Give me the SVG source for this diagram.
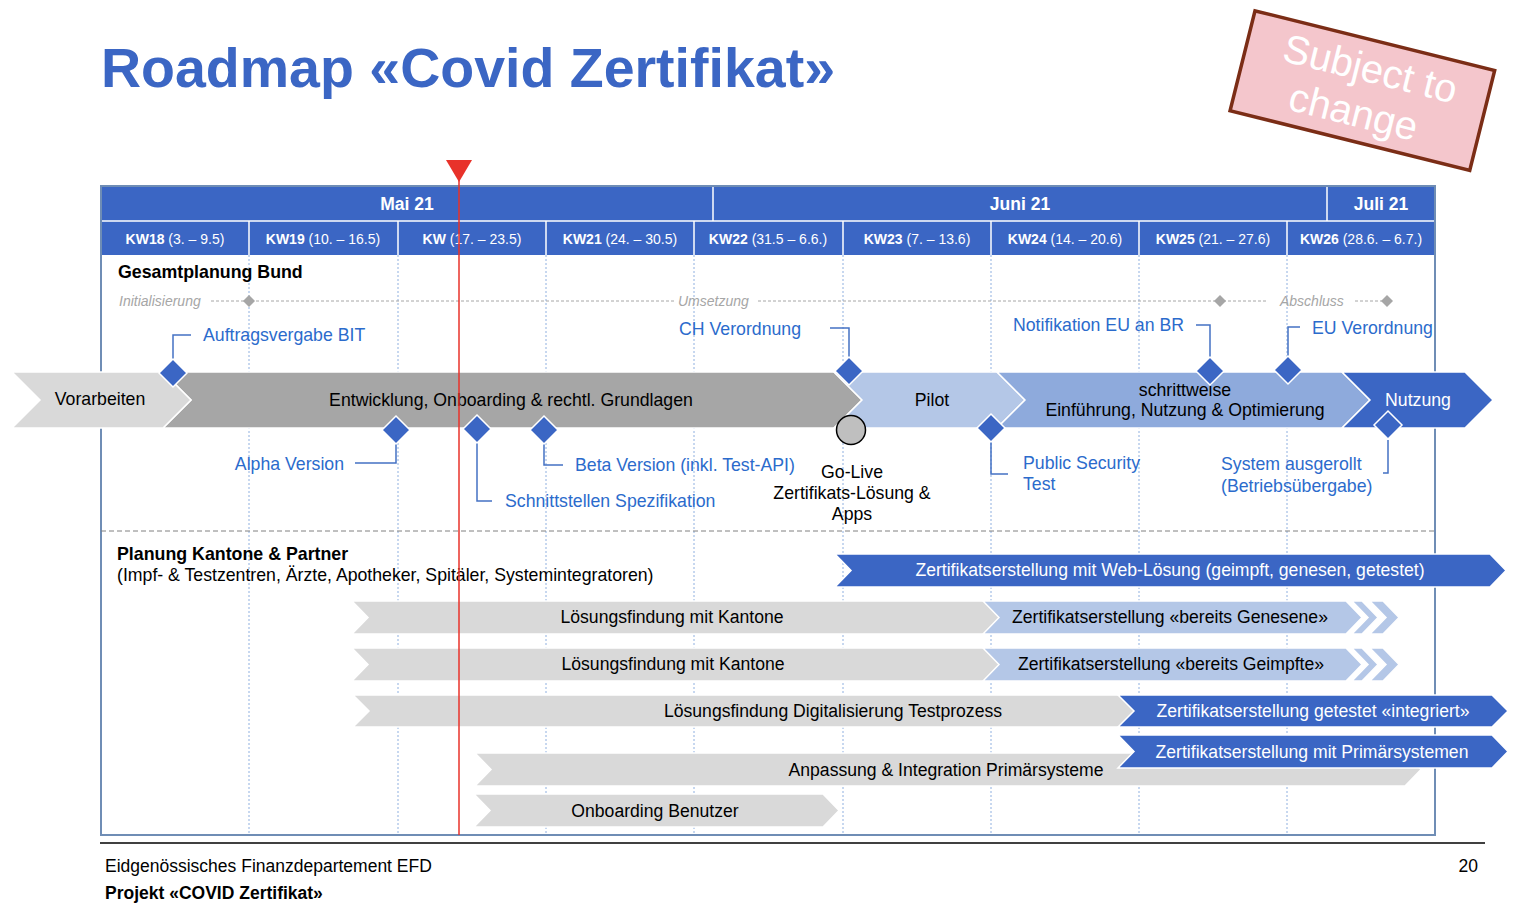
<svg xmlns="http://www.w3.org/2000/svg" width="1536" height="915" viewBox="0 0 1536 915">
<defs>
<style>
text{font-family:"Liberation Sans",Arial,sans-serif}
.title{font-size:55.5px;font-weight:bold;fill:#3b66c4}
.hm{font-size:17.5px;font-weight:bold;fill:#fff}
.wk{font-size:14px;fill:#fff}
.wk tspan.b{font-weight:bold}
.sec{font-size:17.8px;font-weight:bold;fill:#000}
.sub{font-size:17.7px;fill:#000}
.ph{font-size:14px;font-style:italic;fill:#a6a6a6}
.lbl{font-size:17.7px;fill:#2b6bcc}
.blk{font-size:17.7px;fill:#000}
.wht{font-size:17.7px;fill:#fff}
.bar{font-size:17.6px;fill:#000}
.barw{font-size:17.6px;fill:#fff}
.foot{font-size:17.5px;fill:#000}
.g1{fill:#d9d9d9;stroke:#fff;stroke-width:1.5}
.g2{fill:#a6a6a6;stroke:#fff;stroke-width:1.5}
.lb{fill:#b4c7e7;stroke:#fff;stroke-width:1.5}
.mb{fill:#8eaadc;stroke:#fff;stroke-width:1.5}
.db{fill:#3b66c4;stroke:#fff;stroke-width:1.5}
.ms{fill:#3b66c4;stroke:#fff;stroke-width:1.5}
.con{fill:none;stroke:#4472c4;stroke-width:1.5}
.col{stroke:#8fb0e0;stroke-width:1;stroke-dasharray:2 2}
.phl{stroke:#a6a6a6;stroke-width:1;stroke-dasharray:3 2}
.pd{fill:#a6a6a6}
</style>
</defs>

<text class="title" x="101" y="87">Roadmap «Covid Zertifikat»</text>

<g id="stamp" transform="translate(1362,90) rotate(14)">
<rect x="-123" y="-51" width="247" height="103" fill="#f4c6cc" stroke="#7b2d16" stroke-width="3.5"/>
<text x="3" y="-9" font-size="40" fill="#fff" text-anchor="middle">Subject to</text>
<text x="-3" y="37" font-size="40" fill="#fff" text-anchor="middle">change</text>
</g>

<g id="timeline-header">
<rect x="101" y="186" width="1334" height="69" fill="#3b66c4"/>
<line x1="101" y1="221" x2="1435" y2="221" stroke="#fff" stroke-width="1.5"/>
<line x1="713" y1="186" x2="713" y2="221" stroke="#fff" stroke-width="1.5"/>
<line x1="1327" y1="186" x2="1327" y2="221" stroke="#fff" stroke-width="1.5"/>
<g stroke="#fff" stroke-width="1.5">
<line x1="249" y1="221" x2="249" y2="255"/><line x1="398" y1="221" x2="398" y2="255"/>
<line x1="546" y1="221" x2="546" y2="255"/><line x1="694" y1="221" x2="694" y2="255"/>
<line x1="843" y1="221" x2="843" y2="255"/><line x1="991" y1="221" x2="991" y2="255"/>
<line x1="1139" y1="221" x2="1139" y2="255"/><line x1="1287" y1="221" x2="1287" y2="255"/>
</g>
<text class="hm" x="407" y="210" text-anchor="middle">Mai 21</text>
<text class="hm" x="1020" y="210" text-anchor="middle">Juni 21</text>
<text class="hm" x="1381" y="210" text-anchor="middle">Juli 21</text>
<text class="wk" x="175" y="244" text-anchor="middle"><tspan class="b">KW18</tspan> (3. – 9.5)</text>
<text class="wk" x="323" y="244" text-anchor="middle"><tspan class="b">KW19</tspan> (10. – 16.5)</text>
<text class="wk" x="472" y="244" text-anchor="middle"><tspan class="b">KW</tspan> (17. – 23.5)</text>
<text class="wk" x="620" y="244" text-anchor="middle"><tspan class="b">KW21</tspan> (24. – 30.5)</text>
<text class="wk" x="768" y="244" text-anchor="middle"><tspan class="b">KW22</tspan> (31.5 – 6.6.)</text>
<text class="wk" x="917" y="244" text-anchor="middle"><tspan class="b">KW23</tspan> (7. – 13.6)</text>
<text class="wk" x="1065" y="244" text-anchor="middle"><tspan class="b">KW24</tspan> (14. – 20.6)</text>
<text class="wk" x="1213" y="244" text-anchor="middle"><tspan class="b">KW25</tspan> (21. – 27.6)</text>
<text class="wk" x="1361" y="244" text-anchor="middle"><tspan class="b">KW26</tspan> (28.6. – 6.7.)</text>
</g>

<g id="grid">
<line class="col" x1="249" y1="255" x2="249" y2="835"/>
<line class="col" x1="398" y1="255" x2="398" y2="835"/>
<line class="col" x1="546" y1="255" x2="546" y2="835"/>
<line class="col" x1="694" y1="255" x2="694" y2="835"/>
<line class="col" x1="843" y1="255" x2="843" y2="835"/>
<line class="col" x1="991" y1="255" x2="991" y2="835"/>
<line class="col" x1="1139" y1="255" x2="1139" y2="835"/>
<line class="col" x1="1287" y1="255" x2="1287" y2="835"/>
<rect x="101" y="186" width="1334" height="649" fill="none" stroke="#6f8db5" stroke-width="2"/>
<line x1="101" y1="531" x2="1435" y2="531" stroke="#808080" stroke-width="1" stroke-dasharray="5 3"/>
</g>

<text class="sec" x="118" y="278">Gesamtplanung Bund</text>

<g id="phases">
<text class="ph" x="119" y="306">Initialisierung</text>
<line class="phl" x1="211" y1="301" x2="675" y2="301"/>
<polygon class="pd" points="249,295 255,301 249,307 243,301"/>
<text class="ph" x="678" y="306">Umsetzung</text>
<line class="phl" x1="758" y1="301" x2="1266" y2="301"/>
<polygon class="pd" points="1220,295 1226,301 1220,307 1214,301"/>
<text class="ph" x="1280" y="306">Abschluss</text>
<line class="phl" x1="1355" y1="301" x2="1384" y2="301"/>
<polygon class="pd" points="1387,295 1393,301 1387,307 1381,301"/>
</g>

<g id="main-arrows">
<g id="entwicklung">
<polygon class="g2" points="163,372 834,372 862,400 834,428 163,428 191,400"/>
<text class="blk" x="511" y="406" text-anchor="middle">Entwicklung, Onboarding &amp; rechtl. Grundlagen</text>
</g>
<g id="vorarbeiten">
<polygon class="g1" points="12,372 163,372 191,400 163,428 12,428 40,400"/>
<text class="blk" x="100" y="405" text-anchor="middle" font-size="18.2">Vorarbeiten</text>
</g>
<g id="pilot">
<polygon class="lb" points="834,372 997,372 1025,400 997,428 834,428 862,400"/>
<text class="blk" x="932" y="406" text-anchor="middle">Pilot</text>
</g>
<g id="schrittweise">
<polygon class="mb" points="997,372 1342,372 1370,400 1342,428 997,428 1025,400"/>
<text class="blk" x="1185" y="396" text-anchor="middle">schrittweise</text>
<text class="blk" x="1185" y="416" text-anchor="middle">Einführung, Nutzung &amp; Optimierung</text>
</g>
<g id="nutzung">
<polygon class="db" points="1342,372 1465,372 1493,400 1465,428 1342,428 1370,400"/>
<text class="wht" x="1418" y="406" text-anchor="middle">Nutzung</text>
</g>
</g>

<g id="connectors">
<path class="con" d="M173,359 V335 H191"/>
<path class="con" d="M396,444 V463 H355"/>
<path class="con" d="M477,443 V501 H492"/>
<path class="con" d="M544,444 V465 H563"/>
<path class="con" d="M849,357 V328 H830"/>
<path class="con" d="M991,442 V474 H1008"/>
<path class="con" d="M1210,357 V325 H1196"/>
<path class="con" d="M1288,356 V327 H1300"/>
<path class="con" d="M1388,440 V473 H1383"/>
</g>

<g id="ms-auftrag"><polygon class="ms" points="173,359 187,373 173,387 159,373"/><text class="lbl" x="203" y="341">Auftragsvergabe BIT</text></g>
<g id="ms-alpha"><polygon class="ms" points="396,416 410,430 396,444 382,430"/><text class="lbl" x="344" y="470" text-anchor="end">Alpha Version</text></g>
<g id="ms-schnittstellen"><polygon class="ms" points="477,415 491,429 477,443 463,429"/><text class="lbl" x="505" y="507">Schnittstellen Spezifikation</text></g>
<g id="ms-beta"><polygon class="ms" points="544,416 558,430 544,444 530,430"/><text class="lbl" x="575" y="471">Beta Version (inkl. Test-API)</text></g>
<g id="ms-ch"><polygon class="ms" points="849,357 863,371 849,385 835,371"/><text class="lbl" x="801" y="335" text-anchor="end">CH Verordnung</text></g>
<g id="ms-golive"><circle cx="851" cy="430" r="14.5" fill="#bfbfbf" stroke="#000" stroke-width="1.5"/>
<text class="blk" x="852" y="478" text-anchor="middle">Go-Live</text>
<text class="blk" x="852" y="499" text-anchor="middle">Zertifikats-Lösung &amp;</text>
<text class="blk" x="852" y="520" text-anchor="middle">Apps</text></g>
<g id="ms-security"><polygon class="ms" points="991,414 1005,428 991,442 977,428"/><text class="lbl" x="1023" y="469">Public Security</text><text class="lbl" x="1023" y="490">Test</text></g>
<g id="ms-notifikation"><polygon class="ms" points="1210,357 1224,371 1210,385 1196,371"/><text class="lbl" x="1184" y="331" text-anchor="end">Notifikation EU an BR</text></g>
<g id="ms-eu"><polygon class="ms" points="1288,356 1302,370 1288,384 1274,370"/><text class="lbl" x="1312" y="334">EU Verordnung</text></g>
<g id="ms-system"><polygon class="ms" points="1388,411 1402,425 1388,439 1374,425"/><text class="lbl" x="1221" y="470">System ausgerollt</text><text class="lbl" x="1221" y="492">(Betriebsübergabe)</text></g>

<text class="sec" x="117" y="560">Planung Kantone &amp; Partner</text>
<text class="sub" x="117" y="581">(Impf- &amp; Testzentren, Ärzte, Apotheker, Spitäler, Systemintegratoren)</text>

<g id="bar-web">
<polygon class="db" points="835,554 1490,554 1506,570.5 1490,587 835,587 851,570.5"/>
<text class="barw" x="1170" y="576" text-anchor="middle">Zertifikatserstellung mit Web-Lösung (geimpft, genesen, getestet)</text>
</g>
<g id="bar-kantone-1">
<polygon class="g1" points="352,601 984,601 1000,617.5 984,634 352,634 368,617.5"/>
<text class="bar" x="672" y="623" text-anchor="middle">Lösungsfindung mit Kantone</text>
</g>
<g id="bar-genesene">
<polygon class="lb" points="983,601 1346,601 1362,617.5 1346,634 983,634 999,617.5"/>
<polygon class="lb" points="1352,601 1362,601 1378,617.5 1362,634 1352,634 1368,617.5"/>
<polygon class="lb" points="1370,601 1383,601 1399,617.5 1383,634 1370,634 1386,617.5"/>
<text class="bar" x="1170" y="623" text-anchor="middle">Zertifikatserstellung «bereits Genesene»</text>
</g>
<g id="bar-kantone-2">
<polygon class="g1" points="352,648 984,648 1000,664.5 984,681 352,681 368,664.5"/>
<text class="bar" x="673" y="670" text-anchor="middle">Lösungsfindung mit Kantone</text>
</g>
<g id="bar-geimpfte">
<polygon class="lb" points="983,648 1346,648 1362,664.5 1346,681 983,681 999,664.5"/>
<polygon class="lb" points="1352,648 1362,648 1378,664.5 1362,681 1352,681 1368,664.5"/>
<polygon class="lb" points="1370,648 1383,648 1399,664.5 1383,681 1370,681 1386,664.5"/>
<text class="bar" x="1171" y="670" text-anchor="middle">Zertifikatserstellung «bereits Geimpfte»</text>
</g>
<g id="bar-testprozess">
<polygon class="g1" points="353,695 1120,695 1136,711 1120,727 353,727 369,711"/>
<text class="bar" x="833" y="717" text-anchor="middle">Lösungsfindung Digitalisierung Testprozess</text>
</g>
<g id="bar-integriert">
<polygon class="db" points="1118,695 1492,695 1508,711 1492,727 1118,727 1134,711"/>
<text class="barw" x="1313" y="717" text-anchor="middle">Zertifikatserstellung getestet «integriert»</text>
</g>
<g id="bar-primaer">
<polygon class="g1" points="475,753 1405,753 1421,769.5 1405,786 475,786 491,769.5"/>
<text class="bar" x="946" y="776" text-anchor="middle">Anpassung &amp; Integration Primärsysteme</text>
</g>
<g id="bar-primaersystemen">
<polygon class="db" points="1118,735 1492,735 1508,751.5 1492,768 1118,768 1134,751.5"/>
<text class="barw" x="1312" y="758" text-anchor="middle">Zertifikatserstellung mit Primärsystemen</text>
</g>
<g id="bar-onboarding">
<polygon class="g1" points="474,794 823,794 839,810.5 823,827 474,827 490,810.5"/>
<text class="bar" x="655" y="817" text-anchor="middle">Onboarding Benutzer</text>
</g>

<g id="today">
<line x1="459" y1="178" x2="459" y2="835" stroke="#e8322a" stroke-width="1.5"/>
<polygon points="446,160 472,160 459,182" fill="#e8322a"/>
</g>

<g id="footer">
<line x1="100" y1="843" x2="1485" y2="843" stroke="#000" stroke-width="1.5"/>
<text class="foot" x="105" y="872">Eidgenössisches Finanzdepartement EFD</text>
<text class="foot" x="105" y="899" font-weight="bold">Projekt «COVID Zertifikat»</text>
<text class="foot" x="1478" y="872" text-anchor="end">20</text>
</g>
</svg>
